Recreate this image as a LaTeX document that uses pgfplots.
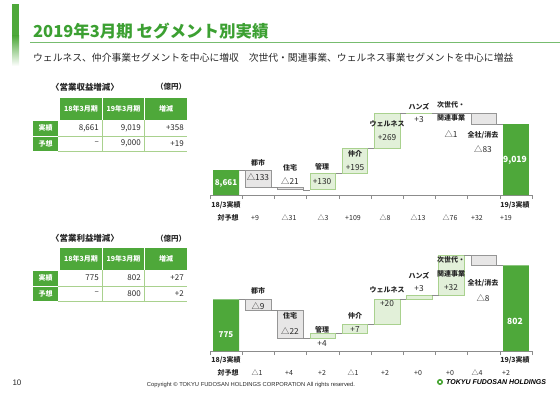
\documentclass[border=0pt]{standalone}
\usepackage{fontspec}
\setmainfont{Noto Sans CJK JP}
\newfontfamily\lat{Liberation Sans}
\usepackage{pgfplots}
\pgfplotsset{compat=1.18}
\definecolor{tgreen}{RGB}{60,160,50}
\definecolor{bgreen}{RGB}{78,168,58}
\definecolor{posfill}{RGB}{226,240,217}
\definecolor{posdraw}{RGB}{169,209,142}
\definecolor{negfill}{RGB}{231,230,230}
\definecolor{negdraw}{RGB}{150,150,150}
\definecolor{axgray}{RGB}{140,140,140}
\definecolor{lgline}{RGB}{169,209,142}
\definecolor{txt}{RGB}{40,40,40}
\newcommand{\catf}{\fontsize{7}{8}\selectfont\bfseries}
\newcommand{\valf}{\fontsize{8.3}{9}\selectfont}
\newcommand{\tvalf}{\fontsize{8}{9}\selectfont}
\newcommand{\smf}{\fontsize{7}{8}\selectfont}
\newcommand{\smbf}{\fontsize{7}{8}\selectfont\bfseries}
% table: #1 header top y, #2 title y, #3 title, #4-#9 values
\newcommand{\datatable}[9]{%
  \fill[bgreen] (60,#1) rectangle (102,#1+22);
  \fill[bgreen] (103.2,#1) rectangle (144,#1+22);
  \fill[bgreen] (145.2,#1) rectangle (187,#1+22);
  \fill[bgreen] (33,#1+23) rectangle (58,#1+37.6);
  \fill[bgreen] (33,#1+38.6) rectangle (58,#1+53);
  \draw[lgline, line width=0.8pt] (58,#1+38) -- (187,#1+38);
  \draw[lgline, line width=0.8pt] (58,#1+53) -- (187,#1+53);
  \draw[lgline, line width=0.8pt] (102.6,#1+22) -- (102.6,#1+53);
  \draw[lgline, line width=0.8pt] (144.6,#1+22) -- (144.6,#1+53);
  \node[font=\smbf, text=white, inner sep=0] at (81,#1+11) {18年3月期};
  \node[font=\smbf, text=white, inner sep=0] at (123.6,#1+11) {19年3月期};
  \node[font=\smbf, text=white, inner sep=0] at (166,#1+11) {増減};
  \node[font=\smbf, text=white, inner sep=0] at (45.5,#1+30) {実績};
  \node[font=\smbf, text=white, inner sep=0] at (45.5,#1+45.5) {予想};
  \node[font=\tvalf, text=txt, anchor=east, inner sep=0] at (99,#1+30) {#4};
  \node[font=\tvalf, text=txt, anchor=east, inner sep=0] at (141,#1+30) {#5};
  \node[font=\tvalf, text=txt, anchor=east, inner sep=0] at (184,#1+30) {#6};
  \node[font=\tvalf, text=txt, anchor=east, inner sep=0] at (99,#1+45.5) {#7};
  \node[font=\tvalf, text=txt, anchor=east, inner sep=0] at (141,#1+45.5) {#8};
  \node[font=\tvalf, text=txt, anchor=east, inner sep=0] at (184,#1+45.5) {#9};
  \node[font=\fontsize{8.5}{9}\selectfont\bfseries, text=txt, inner sep=0] at (85,#2) {#3};
  \node[font=\fontsize{7.5}{8}\selectfont\bfseries, text=txt, inner sep=0] at (171,#2) {（億円）};
}
\pgfplotsset{wf/.style={
  anchor=south west, x=32.2pt, xmin=-0.5, xmax=9.5,
  axis x line=bottom, axis y line=none,
  axis line style={-, draw=axgray, line width=0.6pt},
  xtick={-0.5,0.5,1.5,2.5,3.5,4.5,5.5,6.5,7.5,8.5,9.5},
  xticklabels={}, tick align=outside, major tick length=4pt,
  tick style={draw=axgray, line width=0.6pt},
  clip mode=individual},
  neg/.style={fill=negfill, draw=negdraw, line width=0.6pt},
  pos/.style={fill=posfill, draw=posdraw, line width=0.6pt},
  con/.style={draw=axgray, line width=0.5pt},
  tot/.style={ybar, bar width=25.8pt, fill=bgreen, draw=none}}
\begin{document}
\begin{tikzpicture}
\path[use as bounding box] (0,0) rectangle (560pt,-396pt);
% ---------- revenue waterfall ----------
\begin{axis}[wf, at={(210pt,-195pt)}, y=0.128pt, ymin=8466, ymax=9150]
\addplot[tot] coordinates {(0,8661) (9,9019)};
\addplot[neg] coordinates {(0.6,8528) (1.4,8528) (1.4,8661) (0.6,8661)} -- cycle;
\addplot[neg] coordinates {(1.6,8507) (2.4,8507) (2.4,8528) (1.6,8528)} -- cycle;
\addplot[pos] coordinates {(2.6,8507) (3.4,8507) (3.4,8637) (2.6,8637)} -- cycle;
\addplot[pos] coordinates {(3.6,8637) (4.4,8637) (4.4,8832) (3.6,8832)} -- cycle;
\addplot[pos] coordinates {(4.6,8832) (5.4,8832) (5.4,9101) (4.6,9101)} -- cycle;
\addplot[pos] coordinates {(5.6,9101) (6.4,9101) (6.4,9104) (5.6,9104)} -- cycle;
\addplot[neg] coordinates {(6.6,9103) (7.4,9103) (7.4,9104) (6.6,9104)} -- cycle;
\addplot[neg] coordinates {(7.6,9019) (8.4,9019) (8.4,9103) (7.6,9103)} -- cycle;
\addplot[con] coordinates {(0.4,8661) (0.6,8661)};
\addplot[con] coordinates {(1.4,8528) (1.6,8528)};
\addplot[con] coordinates {(2.4,8507) (2.6,8507)};
\addplot[con] coordinates {(3.4,8637) (3.6,8637)};
\addplot[con] coordinates {(4.4,8832) (4.6,8832)};
\addplot[con] coordinates {(5.4,9101) (5.6,9101)};
\addplot[con] coordinates {(6.4,9104) (6.6,9104)};
\addplot[con] coordinates {(7.4,9103) (7.6,9103)};
\addplot[con] coordinates {(8.4,9019) (8.6,9019)};
\end{axis}
% ---------- operating profit waterfall ----------
\begin{axis}[wf, at={(210pt,-351pt)}, y=1.26pt, ymin=734, ymax=820]
\addplot[tot] coordinates {(0,775) (9,802)};
\addplot[neg] coordinates {(0.6,766) (1.4,766) (1.4,775) (0.6,775)} -- cycle;
\addplot[neg] coordinates {(1.6,744) (2.4,744) (2.4,766) (1.6,766)} -- cycle;
\addplot[pos] coordinates {(2.6,744) (3.4,744) (3.4,748) (2.6,748)} -- cycle;
\addplot[pos] coordinates {(3.6,748) (4.4,748) (4.4,755) (3.6,755)} -- cycle;
\addplot[pos] coordinates {(4.6,755) (5.4,755) (5.4,775) (4.6,775)} -- cycle;
\addplot[pos] coordinates {(5.6,775) (6.4,775) (6.4,778) (5.6,778)} -- cycle;
\addplot[pos] coordinates {(6.6,778) (7.4,778) (7.4,810) (6.6,810)} -- cycle;
\addplot[neg] coordinates {(7.6,802) (8.4,802) (8.4,810) (7.6,810)} -- cycle;
\addplot[con] coordinates {(0.4,775) (0.6,775)};
\addplot[con] coordinates {(1.4,766) (1.6,766)};
\addplot[con] coordinates {(2.4,744) (2.6,744)};
\addplot[con] coordinates {(3.4,748) (3.6,748)};
\addplot[con] coordinates {(4.4,755) (4.6,755)};
\addplot[con] coordinates {(5.4,775) (5.6,775)};
\addplot[con] coordinates {(6.4,778) (6.6,778)};
\addplot[con] coordinates {(7.4,810) (7.6,810)};
\addplot[con] coordinates {(8.4,802) (8.6,802)};
\end{axis}
\begin{scope}[x=1pt,y=-1pt]
% header decoration
\fill[bgreen] (12,4) rectangle (19,36);
\shade[top color=bgreen, bottom color=white] (12,36) rectangle (19,66);
\node[anchor=west, text=tgreen, font=\fontsize{16.5}{17}\selectfont\bfseries, inner sep=0] at (33,31) {2019年3月期 セグメント別実績};
\draw[tgreen!70, line width=0.9pt] (30,42.7) -- (560,42.7);
\node[anchor=west, text=txt, font=\fontsize{9.8}{10}\selectfont, inner sep=0] at (33,57.5) {ウェルネス、仲介事業セグメントを中心に増収　次世代・関連事業、ウェルネス事業セグメントを中心に増益};
% tables
\datatable{98}{87}{〈営業収益増減〉}{8,661}{9,019}{+358}{–}{9,000}{+19}
\datatable{248}{238.5}{〈営業利益増減〉}{775}{802}{+27}{–}{800}{+2}
% revenue labels
\node[font=\fontsize{8}{9}\selectfont\bfseries, text=white] at (226,183) {8,661};
\node[font=\fontsize{8.5}{9}\selectfont\bfseries, text=white] at (515,160) {9,019};
\node[font=\catf, text=txt] at (258,163) {都市};
\node[font=\valf, text=txt] at (258,177) {△133};
\node[font=\catf, text=txt] at (290,167.5) {住宅};
\node[font=\valf, text=txt] at (290,181) {△21};
\node[font=\catf, text=txt] at (322,167) {管理};
\node[font=\valf, text=txt] at (322,182) {+130};
\node[font=\catf, text=txt] at (355,154) {仲介};
\node[font=\valf, text=txt] at (355,168) {+195};
\node[font=\catf, text=txt] at (387,124) {ウェルネス};
\node[font=\valf, text=txt] at (387,138) {+269};
\node[font=\catf, text=txt] at (419,106.5) {ハンズ};
\node[font=\valf, text=txt] at (419,120) {+3};
\node[font=\catf, text=txt] at (451,104.5) {次世代・};
\node[font=\catf, text=txt] at (451,118) {関連事業};
\node[font=\valf, text=txt] at (451,134) {△1};
\node[font=\catf, text=txt] at (483,135) {全社/消去};
\node[font=\valf, text=txt] at (483,149) {△83};
\node[font=\smbf, text=txt] at (226,205) {18/3実績};
\node[font=\smbf, text=txt] at (515,205) {19/3実績};
\node[font=\smbf, text=txt] at (228,218) {対予想};
\foreach \xx/\tt in {255/+9, 289/△31, 323/△3, 353/+109, 385/△8, 418/△13, 450/△76, 477/+32, 506/+19}
  \node[font=\smf, text=txt] at (\xx,218) {\tt};
% profit labels
\node[font=\fontsize{8}{9}\selectfont\bfseries, text=white] at (226,335) {775};
\node[font=\fontsize{8.5}{9}\selectfont\bfseries, text=white] at (515,321) {802};
\node[font=\catf, text=txt] at (258,291) {都市};
\node[font=\valf, text=txt] at (258,306) {△9};
\node[font=\catf, text=txt] at (290,316) {住宅};
\node[font=\valf, text=txt] at (290,331) {△22};
\node[font=\catf, text=txt] at (322,329.5) {管理};
\node[font=\valf, text=txt] at (322,344) {+4};
\node[font=\catf, text=txt] at (355,316) {仲介};
\node[font=\valf, text=txt] at (355,330) {+7};
\node[font=\catf, text=txt] at (387,289.5) {ウェルネス};
\node[font=\valf, text=txt] at (387,304) {+20};
\node[font=\catf, text=txt] at (419,276) {ハンズ};
\node[font=\valf, text=txt] at (419,289) {+3};
\node[font=\catf, text=txt] at (451,260) {次世代・};
\node[font=\catf, text=txt] at (451,274) {関連事業};
\node[font=\valf, text=txt] at (451,288) {+32};
\node[font=\catf, text=txt] at (483,283) {全社/消去};
\node[font=\valf, text=txt] at (483,298) {△8};
\node[font=\smbf, text=txt] at (226,360) {18/3実績};
\node[font=\smbf, text=txt] at (515,360) {19/3実績};
\node[font=\smbf, text=txt] at (228,373) {対予想};
\foreach \xx/\tt in {257/△1, 289/+4, 322/+2, 353/△1, 385/+2, 418/+0, 450/+0, 477/△4, 506/+2}
  \node[font=\smf, text=txt] at (\xx,373) {\tt};
% footer
\node[font=\lat\fontsize{8}{9}\selectfont, text=txt] at (17,383) {10};
\node[font=\lat\fontsize{5.8}{6}\selectfont, text=txt] at (251,385) {Copyright © TOKYU FUDOSAN HOLDINGS CORPORATION All rights reserved.};
\draw[bgreen, line width=1.6pt] (440,382) circle (2.2);
\node[font=\lat\fontsize{7}{8}\selectfont\bfseries\itshape, text=black, anchor=west, inner sep=0] at (446,382) {TOKYU FUDOSAN HOLDINGS};
\end{scope}
\end{tikzpicture}
\end{document}
